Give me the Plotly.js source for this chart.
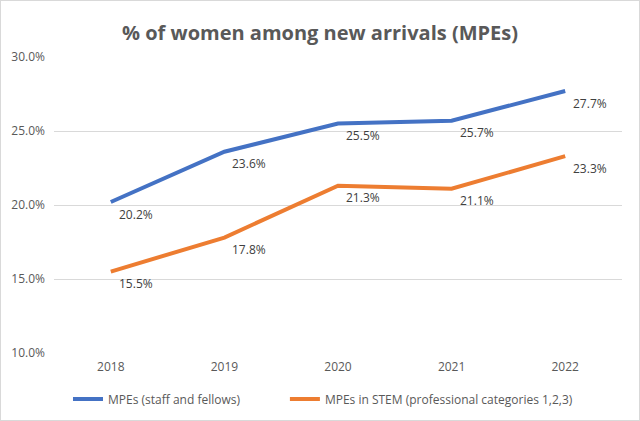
<!DOCTYPE html>
<html>
<head>
<meta charset="utf-8">
<script src="https://cdn.plot.ly/plotly-3.0.1.min.js"></script>
<style>
html,body{margin:0;padding:0;background:#fff;}
#chart{width:638px;height:419px;border:1px solid #d9d9d9;}
</style>
</head>
<body>
<div id="chart"></div>
<script>
const years = ['2018','2019','2020','2021','2022'];
const mpeAll = [20.2, 23.6, 25.5, 25.7, 27.7];
const mpeStem = [15.5, 17.8, 21.3, 21.1, 23.3];
const seriesNames = ['MPEs (staff and fellows)', 'MPEs in STEM (professional categories 1,2,3)'];
const yTicks = [10, 15, 20, 25, 30];

const fmt = v => v.toFixed(1) + '%';
const font = 'Open Sans, Liberation Sans, sans-serif';

const traces = [
  {x: years, y: mpeAll, name: seriesNames[0], type: 'scatter', mode: 'lines',
   line: {color: '#4472C4', width: 4}, legend: 'legend'},
  {x: years, y: mpeStem, name: seriesNames[1], type: 'scatter', mode: 'lines',
   line: {color: '#ED7D31', width: 4}, legend: 'legend2'}
];

const annotations = [];
[mpeAll, mpeStem].forEach(series => {
  series.forEach((v, i) => {
    annotations.push({x: i, y: v, xref: 'x', yref: 'y', text: fmt(v), showarrow: false,
      xanchor: 'center', yanchor: 'middle', xshift: 25, yshift: -12,
      font: {size: 12, color: '#404040', family: font}});
  });
});

const legendCommon = {orientation: 'h', xref: 'container', yref: 'container', xanchor: 'left',
  y: 0.05, yanchor: 'middle', font: {size: 12, color: '#595959', family: font}, bgcolor: 'rgba(0,0,0,0)'};

const layout = {
  width: 638, height: 419,
  margin: {l: 53, r: 17, t: 56, b: 67},
  paper_bgcolor: '#fff', plot_bgcolor: '#fff',
  font: {family: font, color: '#595959', size: 12},
  title: {text: '<b>% of women among new arrivals (MPEs)</b>', x: 0.5, xanchor: 'center',
          y: 0.94, font: {size: 20, color: '#595959', family: font}},
  xaxis: {type: 'category', range: [-0.5, 4.5], showgrid: false, zeroline: false, showline: false,
          ticks: '', ticklabelstandoff: 5, tickfont: {size: 12, color: '#595959'}},
  yaxis: {range: [10, 30], tickvals: yTicks, ticktext: yTicks.map(v => v.toFixed(1) + '%'),
          showgrid: true, gridcolor: '#d9d9d9', gridwidth: 1, zeroline: false, showline: false,
          ticks: '', ticklabelstandoff: 8, tickfont: {size: 12, color: '#595959'}},
  annotations: annotations,
  showlegend: true,
  legend: Object.assign({}, legendCommon, {x: 0.105}),
  legend2: Object.assign({}, legendCommon, {x: 0.445})
};

Plotly.newPlot('chart', traces, layout, {displayModeBar: false, staticPlot: true});
</script>
</body>
</html>
